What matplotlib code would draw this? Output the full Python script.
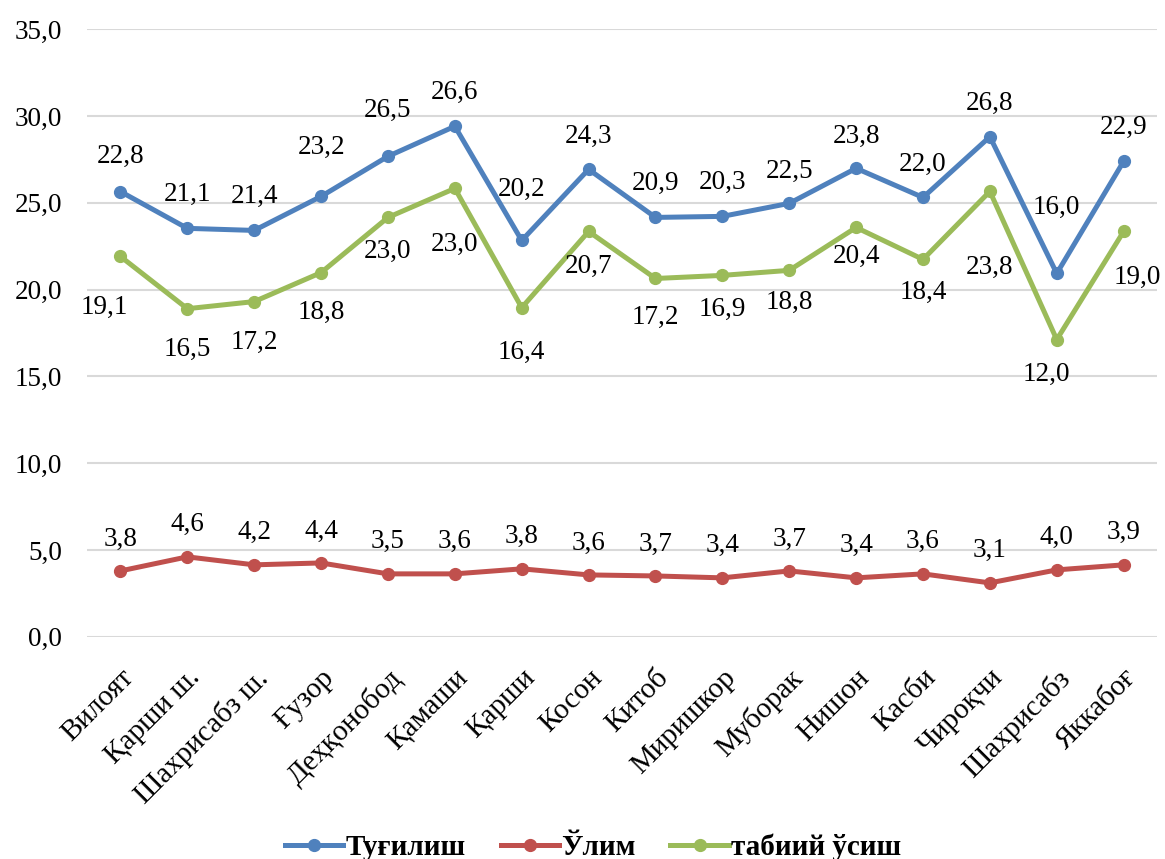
import numpy as np
import matplotlib
matplotlib.use('Agg')
import matplotlib.pyplot as plt

plt.rcParams['font.family'] = ['Liberation Serif', 'DejaVu Serif']

# Districts (x categories)
districts = ['Вилоят', 'Қарши ш.', 'Шахрисабз ш.', 'Ғузор', 'Деҳқонобод', 'Қамаши',
             'Қарши', 'Косон', 'Китоб', 'Миришкор', 'Муборак', 'Нишон', 'Касби',
             'Чироқчи', 'Шахрисабз', 'Яккабоғ']

# Plotted positions
birth_pos = [25.65, 23.53, 23.41, 25.37, 27.68, 29.41, 22.83, 26.93, 24.16, 24.22,
             24.97, 26.99, 25.31, 28.81, 20.93, 27.39]
death_pos = [3.79, 4.60, 4.14, 4.25, 3.62, 3.62, 3.91, 3.56, 3.50, 3.39,
             3.79, 3.39, 3.62, 3.10, 3.85, 4.14]
growth_pos = [21.91, 18.90, 19.31, 20.98, 24.16, 25.83, 18.96, 23.35, 20.64, 20.82,
              21.11, 23.58, 21.74, 25.66, 17.12, 23.35]

# Data label values as printed on the chart
birth_lbl = [22.8, 21.1, 21.4, 23.2, 26.5, 26.6, 20.2, 24.3, 20.9, 20.3, 22.5, 23.8, 22.0, 26.8, 16.0, 22.9]
death_lbl = [3.8, 4.6, 4.2, 4.4, 3.5, 3.6, 3.8, 3.6, 3.7, 3.4, 3.7, 3.4, 3.6, 3.1, 4.0, 3.9]
growth_lbl = [19.1, 16.5, 17.2, 18.8, 23.0, 23.0, 16.4, 20.7, 17.2, 16.9, 18.8, 20.4, 18.4, 23.8, 12.0, 19.0]

series_names = ['Туғилиш', 'Ўлим', 'табиий ўсиш']

# label offsets in pixels (dx, dy down)
birth_dy = [35, 34, 34, 49, 46, 34, 51, 33, 34, 34, 32, 32, 33, 33, 66, 34]
growth_dy = [51, 41, 41, 40, 34, 56, 45, 35, 39, 34, 32, 29, 33, 76, 35, 46]
growth_dx = [-16, 0, 0, 0, 0, 0, 0, 0, 0, 0, 0, 0, 0, 0, -10, 14]

fig = plt.figure(figsize=(11.65, 8.59), dpi=100)
ax = fig.add_axes([0.0747, 0.2588, 0.9185, 0.7071])

x = np.arange(len(districts))
colors = ['#4f81bd', '#c0504d', '#9bbb59']
for vals, col, name in zip([birth_pos, death_pos, growth_pos], colors, series_names):
    ax.plot(x, vals, color=col, lw=3.6, marker='o', ms=8.5, label=name, zorder=3)

def fmt(v):
    return ('%.1f' % v).replace('.', ',')

fs = 19.5
for i in range(len(x)):
    ax.annotate(fmt(birth_lbl[i]), (x[i], birth_pos[i]), xytext=(0, birth_dy[i]),
                textcoords='offset pixels', ha='center', va='center', fontsize=fs)
    ax.annotate(fmt(death_lbl[i]), (x[i], death_pos[i]), xytext=(0, 32),
                textcoords='offset pixels', ha='center', va='center', fontsize=fs)
    ax.annotate(fmt(growth_lbl[i]), (x[i], growth_pos[i]), xytext=(growth_dx[i], -growth_dy[i]),
                textcoords='offset pixels', ha='center', va='center', fontsize=fs)

ax.set_xlim(-0.5, len(x) - 0.5)
ax.set_ylim(0, 35)
yt = np.arange(0, 36, 5)
ax.set_yticks(yt)
ax.set_yticklabels([fmt(v) for v in yt], fontsize=fs)
ax.set_xticks(x)
ax.set_xticklabels(districts, rotation=45, ha='right', rotation_mode='anchor', fontsize=21)
ax.tick_params(axis='both', length=0)
ax.tick_params(axis='y', pad=18)
ax.tick_params(axis='x', pad=20)
ax.grid(axis='y', color='#d9d9d9', lw=1.5, zorder=0)
for s in ax.spines.values():
    s.set_visible(False)

fig.legend(loc='center', bbox_to_anchor=(0.509, 0.014), ncol=3, frameon=False,
           prop={'weight': 'bold', 'size': 21}, handlelength=2.0, handletextpad=0.07,
           columnspacing=1.2)

fig.savefig('out.png', dpi=100)
